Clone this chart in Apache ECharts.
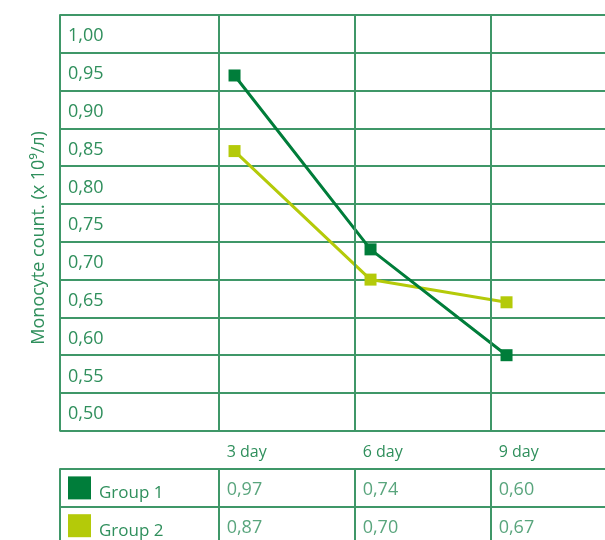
<!DOCTYPE html>
<html>
<head>
<meta charset="utf-8">
<script src="https://cdn.jsdelivr.net/npm/echarts@6/dist/echarts.min.js"></script>
<style>
  html, body { margin: 0; padding: 0; background: #ffffff; }
  #chart { width: 605px; height: 540px; }
</style>
</head>
<body>
<div id="chart"></div>
<script>
// Measurement days (column headers) and their numeric day values
const days = ['3 day', '6 day', '9 day'];
const dayNumbers = [3, 6, 9];

// Groups and monocyte counts (x 10^9/л) per day
const groupNames = ['Group 1', 'Group 2'];
const group1 = [0.97, 0.74, 0.60];
const group2 = [0.87, 0.70, 0.67];

// Value-axis row labels, bottom to top
const yTickLabels = ['0,50', '0,55', '0,60', '0,65', '0,70', '0,75', '0,80', '0,85', '0,90', '0,95', '1,00'];

const GREEN_LINE = '#3f9768';
const GREEN_TEXT = '#2f8f5c';
const COLOR_G1 = '#007d3a';
const COLOR_G2 = '#b4ca09';
const FONT = '"Open Sans", "Noto Sans", sans-serif';

const ROW_H = 37.8;          // height of one 0.05 band
const DAY_PX = 136 / 3;      // pixels per day on the x scale
const X_MIN = -0.5, X_MAX = 12.5;
const GRID_W = (X_MAX - X_MIN) * DAY_PX;
const POINT_SHIFT = 0.35;    // markers sit a little right of each column line

const fmt = v => v.toFixed(2).replace('.', ',');
const seriesValues = [group1, group2];
const seriesColors = [COLOR_G1, COLOR_G2];

const columnLines = dayNumbers.map(d => ({ xAxis: d }));
const gridLineStyle = { color: GREEN_LINE, width: 2, type: 'solid' };

const tableCells = [];
seriesValues.forEach((vals, gi) => {
  vals.forEach((v, di) => tableCells.push([dayNumbers[di], groupNames[gi], v]));
});

const chart = echarts.init(document.getElementById('chart'), null, { renderer: 'canvas' });

chart.setOption({
  animation: false,
  backgroundColor: '#ffffff',
  grid: [
    { left: 60, top: 15, width: GRID_W, height: ROW_H * 11, outerBoundsMode: 'none', containLabel: false },
    { left: 60, top: 469, width: GRID_W, height: ROW_H * 2, outerBoundsMode: 'none', containLabel: false }
  ],
  xAxis: [
    { gridIndex: 0, type: 'value', min: X_MIN, max: X_MAX, show: false },
    {
      gridIndex: 1, type: 'value', min: X_MIN, max: X_MAX, position: 'top',
      axisLine: { show: false }, axisTick: { show: false }, splitLine: { show: false },
      axisLabel: {
        customValues: dayNumbers,
        formatter: v => days[dayNumbers.indexOf(v)] || '',
        align: 'left',
        padding: [0, 0, 0, 8],
        margin: 9,
        color: GREEN_TEXT, fontSize: 16, fontFamily: FONT
      }
    }
  ],
  yAxis: [
    {
      gridIndex: 0, type: 'value', min: 0.5, max: 1.05, interval: 0.05,
      name: 'Monocyte count. (x 10\u2079/\u043b)',
      nameLocation: 'middle', nameRotate: 90, nameGap: 12,
      nameTextStyle: { color: GREEN_TEXT, fontSize: 18, fontFamily: FONT, padding: [0, 30, 0, 0] },
      axisLine: { show: true, onZero: false, lineStyle: gridLineStyle },
      axisTick: { show: false },
      splitLine: { show: true, lineStyle: gridLineStyle },
      axisLabel: {
        inside: true, margin: 8,
        verticalAlign: 'bottom', lineHeight: 33,
        color: GREEN_TEXT, fontSize: 18, fontFamily: FONT,
        formatter: v => {
          const i = Math.round((v - 0.5) / 0.05);
          return yTickLabels[i] !== undefined ? yTickLabels[i] : '';
        }
      }
    },
    {
      gridIndex: 1, type: 'category', data: groupNames, inverse: true,
      axisLine: { show: true, onZero: false, lineStyle: gridLineStyle },
      axisTick: { show: false },
      splitLine: { show: true, lineStyle: gridLineStyle },
      axisLabel: {
        inside: true, margin: 39, interval: 0,
        verticalAlign: 'top', lineHeight: 10,
        color: GREEN_TEXT, fontSize: 17, fontFamily: FONT
      }
    }
  ],
  series: [
    // column lines of the plot area
    {
      type: 'line', xAxisIndex: 0, yAxisIndex: 0, data: [], z: 1, silent: true,
      markLine: { symbol: 'none', silent: true, label: { show: false }, lineStyle: gridLineStyle, data: columnLines }
    },
    // column lines of the value table
    {
      type: 'line', xAxisIndex: 1, yAxisIndex: 1, data: [], z: 1, silent: true,
      markLine: { symbol: 'none', silent: true, label: { show: false }, lineStyle: gridLineStyle, data: columnLines }
    },
    // trend lines, Group 2 first so Group 1 sits on top
    ...[1, 0].map(gi => ({
      name: groupNames[gi],
      type: 'line', xAxisIndex: 0, yAxisIndex: 0, z: 3 + (1 - gi),
      data: seriesValues[gi].map((v, di) => [dayNumbers[di] + POINT_SHIFT, v]),
      symbol: 'rect', symbolSize: 12, showSymbol: true,
      itemStyle: { color: seriesColors[gi], opacity: 1 },
      lineStyle: { color: seriesColors[gi], width: 3 }
    })),
    // colour keys in the table
    {
      type: 'scatter', xAxisIndex: 1, yAxisIndex: 1, z: 4, silent: true,
      symbol: 'rect', symbolSize: 23, symbolOffset: [19.5, 0],
      data: groupNames.map((g, gi) => ({ value: [X_MIN, g], itemStyle: { color: seriesColors[gi], opacity: 1 } }))
    },
    // table values
    {
      type: 'scatter', xAxisIndex: 1, yAxisIndex: 1, z: 4, silent: true,
      symbolSize: 0,
      data: tableCells,
      label: {
        show: true, position: 'right', distance: 8,
        offset: [0, 2],
        formatter: p => fmt(p.value[2]),
        color: GREEN_TEXT, fontSize: 18, fontFamily: FONT
      }
    }
  ]
});
</script>
</body>
</html>
